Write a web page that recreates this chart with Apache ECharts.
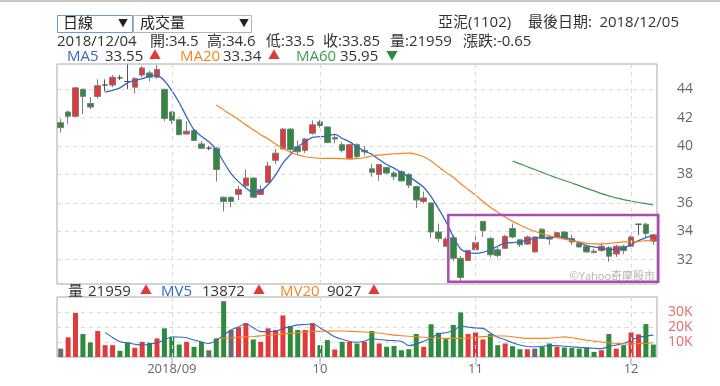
<!DOCTYPE html>
<html><head><meta charset="utf-8">
<script src="https://cdn.jsdelivr.net/npm/echarts@6/dist/echarts.min.js"></script>
<style>html,body{margin:0;padding:0;background:#fff}#c{width:720px;height:386px}</style>
</head><body><div id="c"></div>
<script>
// ---- data ----
const opens = [
 41.65,42.4,42.1,44.0,43.0,43.5,44.3,44.3,44.8,44.55,
 44.15,45.0,45.15,44.85,44.0,42.4,41.85,40.85,41.1,40.15,
 39.85,39.85,36.4,36.4,36.6,37.2,37.75,36.6,37.45,39.0,
 39.8,41.2,39.95,39.7,40.9,41.7,41.35,40.6,40.1,39.1,
 40.1,39.7,38.4,38.0,38.5,38.1,38.2,38.0,37.15,36.1,
 36.0,33.95,32.95,33.55,32.1,31.95,32.7,34.7,33.5,32.7,
 32.8,34.2,33.4,33.1,32.55,34.15,33.6,33.6,33.95,33.5,
 33.15,32.95,32.6,32.65,32.85,32.4,32.95,32.95,34.5,34.5,33.3];
const closes = [
 41.3,42.1,44.1,43.5,42.75,44.25,44.3,44.85,44.8,44.55,
 44.75,45.5,44.85,45.4,41.95,41.8,40.8,41.05,40.4,39.85,
 39.85,38.35,36.1,36.1,36.95,37.75,36.4,36.95,38.6,39.5,
 41.2,39.75,39.6,40.5,41.5,41.45,40.25,40.5,39.7,40.1,
 39.25,39.6,38.15,38.7,38.1,37.85,37.55,37.25,36.2,36.35,
 33.95,33.5,33.45,32.1,30.75,32.65,33.2,34.05,32.35,32.3,
 33.65,33.6,33.05,33.6,33.6,33.5,33.45,33.9,33.5,33.25,
 32.9,32.55,32.5,32.95,32.25,32.95,32.65,33.6,34.5,33.85,33.75];
const lows = [
 40.95,41.55,42.05,42.25,42.6,43.35,43.85,44.15,44.65,44.0,
 43.7,44.85,44.55,44.75,41.75,41.55,40.8,40.8,40.4,39.8,
 39.7,37.5,35.4,35.7,36.2,37.1,36.35,36.55,37.4,38.75,
 39.75,39.55,39.4,39.5,40.8,41.3,40.2,40.2,39.55,39.1,
 39.1,39.35,37.85,37.55,38.05,37.6,37.5,37.05,35.65,35.95,
 33.55,33.25,32.9,31.9,30.45,31.9,32.55,33.6,32.15,32.15,
 32.75,33.5,32.9,33.05,32.5,33.45,33.05,33.6,33.45,33.05,
 32.85,32.5,32.45,32.55,31.85,32.2,32.4,32.9,33.75,33.5,33.05];
const highs = [
 41.9,42.5,44.15,44.05,43.45,44.7,44.7,45.0,45.0,45.75,
 44.85,45.65,45.3,45.7,44.0,42.45,41.9,41.75,41.2,40.35,
 40.0,39.95,36.45,36.45,37.2,38.35,37.8,37.25,38.9,39.8,
 41.25,41.25,40.4,40.55,41.8,41.85,41.4,40.85,40.3,40.15,
 40.2,40.0,38.75,38.75,38.5,38.25,38.3,38.1,37.15,36.8,
 36.0,34.55,33.6,33.75,32.25,32.7,33.65,34.7,33.6,32.9,
 33.75,34.55,33.45,33.7,33.65,34.2,33.75,33.95,34.0,33.75,
 33.3,33.05,32.75,33.2,32.95,33.05,33.05,33.7,34.5,34.6,33.8];
const volumes = [
 5600,13100,29300,15300,9700,17300,7900,7900,4100,9700,
 6100,10100,9500,12400,19100,13500,8300,10100,6800,10100,
 4500,12400,37200,18000,19800,22500,11700,10100,19100,18000,
 27700,20700,18000,18000,22500,7900,11300,5000,10100,10100,
 9000,10100,17300,9000,6800,7400,4500,5200,15300,6800,
 21800,16200,11900,21400,29700,15300,16400,11700,15300,7900,
 9000,7200,5200,5200,5600,6800,9000,6800,6300,6100,
 5600,6300,3400,4500,15300,5600,7900,16400,15100,21959,8300];
const ma5 = [null,null,null,null,null,null,
 43.8,43.93,44.1,44.45,44.62,44.75,44.93,44.98,44.6,43.9,
 43.05,42.05,41.15,40.7,40.3,39.75,38.88,38.06,37.5,37.05,
 36.75,36.85,37.3,37.95,38.8,39.4,39.95,40.3,40.62,40.66,
 40.72,40.82,40.55,40.3,39.96,39.65,39.42,39.05,38.7,38.45,
 38.12,37.85,37.5,37.1,36.45,35.6,34.7,33.62,32.75,32.5,
 32.45,32.52,32.7,32.95,33.18,33.2,33.25,33.38,33.52,33.57,
 33.52,33.62,33.58,33.4,33.2,33.0,32.9,32.8,32.72,32.73,
 32.8,33.1,33.35,33.55,33.74];
const ma20 = [null,null,null,null,null,null,null,null,null,null,null,null,null,null,null,null,null,null,null,null,null,
 42.9,42.55,42.2,41.88,41.5,41.15,40.8,40.5,40.15,39.85,
 39.55,39.38,39.25,39.18,39.14,39.13,39.13,39.12,39.1,39.12,
 39.18,39.3,39.37,39.42,39.46,39.49,39.5,39.42,39.25,38.95,
 38.55,38.15,37.8,37.35,36.95,36.55,36.1,35.7,35.35,35.0,
 34.7,34.44,34.2,34.0,33.82,33.68,33.55,33.45,33.35,33.25,
 33.15,33.12,33.1,33.15,33.2,33.25,33.27,33.28,33.34,33.39];
const ma60 = [null,null,null,null,null,null,null,null,null,null,
 null,null,null,null,null,null,null,null,null,null,
 null,null,null,null,null,null,null,null,null,null,
 null,null,null,null,null,null,null,null,null,null,
 null,null,null,null,null,null,null,null,null,null,
 null,null,null,null,null,null,null,null,null,null,null,
 38.95,38.75,38.55,38.35,38.15,37.95,37.75,37.58,37.4,37.22,
 37.02,36.85,36.65,36.5,36.35,36.23,36.13,36.03,35.95,35.85];
const mv5 = [null,null,null,null,null,null,
 16400,13000,10100,9500,8500,7900,8600,9500,11500,13300,
 13300,12800,11300,10000,9000,11000,14500,18000,20000,22300,
 19500,16900,16900,17200,19000,20300,21400,21700,22100,19500,
 16500,13500,11800,10300,9800,10500,12200,11700,11100,10900,
 10500,7600,8600,10500,12700,15400,16200,17500,20600,20000,
 19300,19100,16000,13200,11500,9500,8000,7000,6800,7200,
 7600,7600,7200,6800,6400,6100,5800,5600,7000,8000,
 9100,11200,13000,13900,14600];
const mv20 = [null,null,null,null,null,null,null,null,null,null,null,null,null,null,null,null,null,null,null,null,null,
 12400,12600,12800,13100,13400,13700,14100,14500,15000,15400,
 15800,16200,16800,17000,17100,17200,17300,17300,17100,16900,
 16700,16300,16000,15300,14600,14200,13800,13500,13200,12800,
 12500,12400,12400,12400,12700,13200,13600,13800,14000,14000,
 13500,12800,12400,12400,12400,12600,13000,13400,12800,12000,
 11200,10600,10000,9500,9000,8700,8700,8900,9000,9500];
const tickIdx = [15, 35, 56, 77];
const tickLabels = ['2018/09', '10', '11', '12'];
const priceTicks = [32, 34, 36, 38, 40, 42, 44];
const volTicks = [10000, 20000, 30000];
const volTickLabels = ['10K', '20K', '30K'];
const boxIdx = [53, 80];
const boxPrice = [30.45, 35.15];

// ---- chart ----
const cats = closes.map((_, i) => String(i + 1));
const FONT = "'Open Sans','Noto Sans CJK TC',sans-serif";
const RED = '#e2393b', GREEN = '#2e8b3e', GRAY = '#6b6b6b';
const BLUE = '#3567c2', ORANGE = '#f7841f', LGREEN = '#3f9a4e';
const candleData = opens.map((o, i) => [o, closes[i], lows[i], highs[i]]);
const volData = volumes.map((v, i) => {
  let c = GRAY;
  if (i > 0) { if (closes[i] > closes[i-1]) c = RED; else if (closes[i] < closes[i-1]) c = GREEN; }
  return { value: v, itemStyle: { color: c } };
});
const isTick = (i) => tickIdx.indexOf(i) >= 0;
const dash = { type: [4, 4], color: '#d9d9d9', width: 1 };
const vMark = {
  silent: true, symbol: ['none', 'none'], label: { show: false }, animation: false,
  lineStyle: dash, data: tickIdx.map(i => ({ xAxis: cats[i] }))
};
const lineS = (data, color, xi, w) => ({
  type: 'line', xAxisIndex: xi, yAxisIndex: xi, data: data, showSymbol: false, smooth: 0.3,
  lineStyle: { color: color, width: w }, itemStyle: { color: color }, z: 3, silent: true
});

const chart = echarts.init(document.getElementById('c'));
chart.setOption({
  animation: false,
  textStyle: { fontFamily: FONT },
  grid: [
    { left: 57, top: 64, width: 600, height: 220, show: true, borderColor: '#a8a8a8', borderWidth: 1 },
    { left: 57, top: 297, width: 600, height: 60, show: true, borderColor: '#a8a8a8', borderWidth: 1 }
  ],
  xAxis: [
    { type: 'category', gridIndex: 0, data: cats, boundaryGap: true,
      axisLine: { show: false }, axisTick: { show: false }, axisLabel: { show: false }, splitLine: { show: false } },
    { type: 'category', gridIndex: 1, data: cats, boundaryGap: true,
      axisLine: { show: false },
      axisTick: { show: true, alignWithLabel: true, interval: (i) => isTick(i), length: 8, lineStyle: { color: '#c2d3e6', width: 2 } },
      axisLabel: { show: true, interval: (i) => isTick(i), formatter: (v, i) => tickLabels[tickIdx.indexOf(i)] || '',
                   color: '#666', fontSize: 13, margin: 6 },
      splitLine: { show: false } }
  ],
  yAxis: [
    { type: 'value', gridIndex: 0, position: 'right', min: 30.29, max: 45.78, scale: true,
      axisLine: { show: false }, axisTick: { show: false, customValues: priceTicks },
      axisLabel: { customValues: priceTicks, color: '#666', fontSize: 14, margin: 20 },
      splitLine: { show: true, lineStyle: dash } },
    { type: 'value', gridIndex: 1, position: 'right', min: 0, max: 40000,
      axisLine: { show: false }, axisTick: { show: false, customValues: volTicks },
      axisLabel: { customValues: volTicks, formatter: (v) => volTickLabels[volTicks.indexOf(v)] || '',
                   color: '#e66a6a', fontSize: 14, margin: 11 },
      splitLine: { show: true, lineStyle: dash } }
  ],
  series: [
    { type: 'line', xAxisIndex: 0, yAxisIndex: 0, data: [], z: 1, silent: true, markLine: vMark },
    { type: 'candlestick', xAxisIndex: 0, yAxisIndex: 0, data: candleData, barWidth: 6, z: 2,
      itemStyle: { color: RED, color0: GREEN, borderColor: '#7d7d7d', borderColor0: '#7d7d7d', borderColorDoji: '#555', borderWidth: 1 } },
    lineS(ma5, BLUE, 0, 1.3),
    lineS(ma20, ORANGE, 0, 1.2),
    lineS(ma60, LGREEN, 0, 1.2),
    { type: 'line', xAxisIndex: 1, yAxisIndex: 1, data: [], z: 1, silent: true, markLine: vMark },
    { type: 'bar', xAxisIndex: 1, yAxisIndex: 1, data: volData, barWidth: 5, z: 2 },
    lineS(mv5, BLUE, 1, 1.1),
    lineS(mv20, ORANGE, 1, 1.1)
  ]
});

// ---- header texts & annotations ----
function t(x, y, text, fill, size, align) {
  return { type: 'text', x: x, y: y, z: 50, silent: true,
    style: { text: text, fill: fill, font: (size || 15) + 'px ' + FONT, align: align || 'left', verticalAlign: 'middle' } };
}
const D = '#333';
const g = [
  { type: 'line', shape: { x1: 0, y1: 1, x2: 720, y2: 1 }, style: { stroke: '#c8c8c8', lineWidth: 2 }, silent: true },
  { type: 'rect', shape: { x: 57.5, y: 15.5, width: 75, height: 17 }, style: { fill: '#fff', stroke: '#6f9ad8', lineWidth: 1 }, silent: true },
  { type: 'rect', shape: { x: 133.5, y: 15.5, width: 118, height: 17 }, style: { fill: '#fff', stroke: '#b5b5b5', lineWidth: 1 }, silent: true },
  t(63, 24, '日線', '#222', 15), t(118, 24, '▼', '#222', 10),
  t(140, 24, '成交量', '#222', 15), t(239, 24, '▼', '#222', 10),
  t(438, 23, '亞泥(1102)', D, 15), t(528, 23, '最後日期:', D, 15), t(679, 23, '2018/12/05', D, 15, 'right'),
  t(57, 42, '2018/12/04', D), t(150, 42, '開:34.5', D), t(207, 42, '高:34.6', D),
  t(266, 42, '低:33.5', D), t(323, 42, '收:33.85', D), t(390, 42, '量:21959', D), t(463, 42, '漲跌:-0.65', D),
  t(67, 57, 'MA5', BLUE), t(105, 57, '33.55', D), t(149, 57, '▲', RED, 12),
  t(180, 57, 'MA20', ORANGE), t(223, 57, '33.34', D), t(268, 57, '▲', RED, 12),
  t(296, 57, 'MA60', LGREEN), t(340, 57, '35.95', D), t(386, 57, '▼', GREEN, 12),
  t(68, 292, '量', D), t(88, 292, '21959', D), t(140, 292, '▲', RED, 12),
  t(161, 292, 'MV5', BLUE), t(202, 292, '13872', D), t(253, 292, '▲', RED, 12),
  t(280, 292, 'MV20', ORANGE), t(327, 292, '9027', D), t(368, 292, '▲', RED, 12),
  t(655, 277, '©Yahoo奇摩股市', '#b4b4b4', 11, 'right')
];
const p1 = chart.convertToPixel({ gridIndex: 0 }, [cats[boxIdx[0]], boxPrice[1]]);
const p2 = chart.convertToPixel({ gridIndex: 0 }, [cats[boxIdx[1]], boxPrice[0]]);
const pad = 5;
g.push({ type: 'rect', z: 60, silent: true,
  shape: { x: p1[0] - pad, y: p1[1], width: p2[0] - p1[0] + 2 * pad, height: p2[1] - p1[1] },
  style: { fill: 'none', stroke: '#a64fb0', lineWidth: 2.5 } });
chart.setOption({ graphic: g });
</script></body></html>
